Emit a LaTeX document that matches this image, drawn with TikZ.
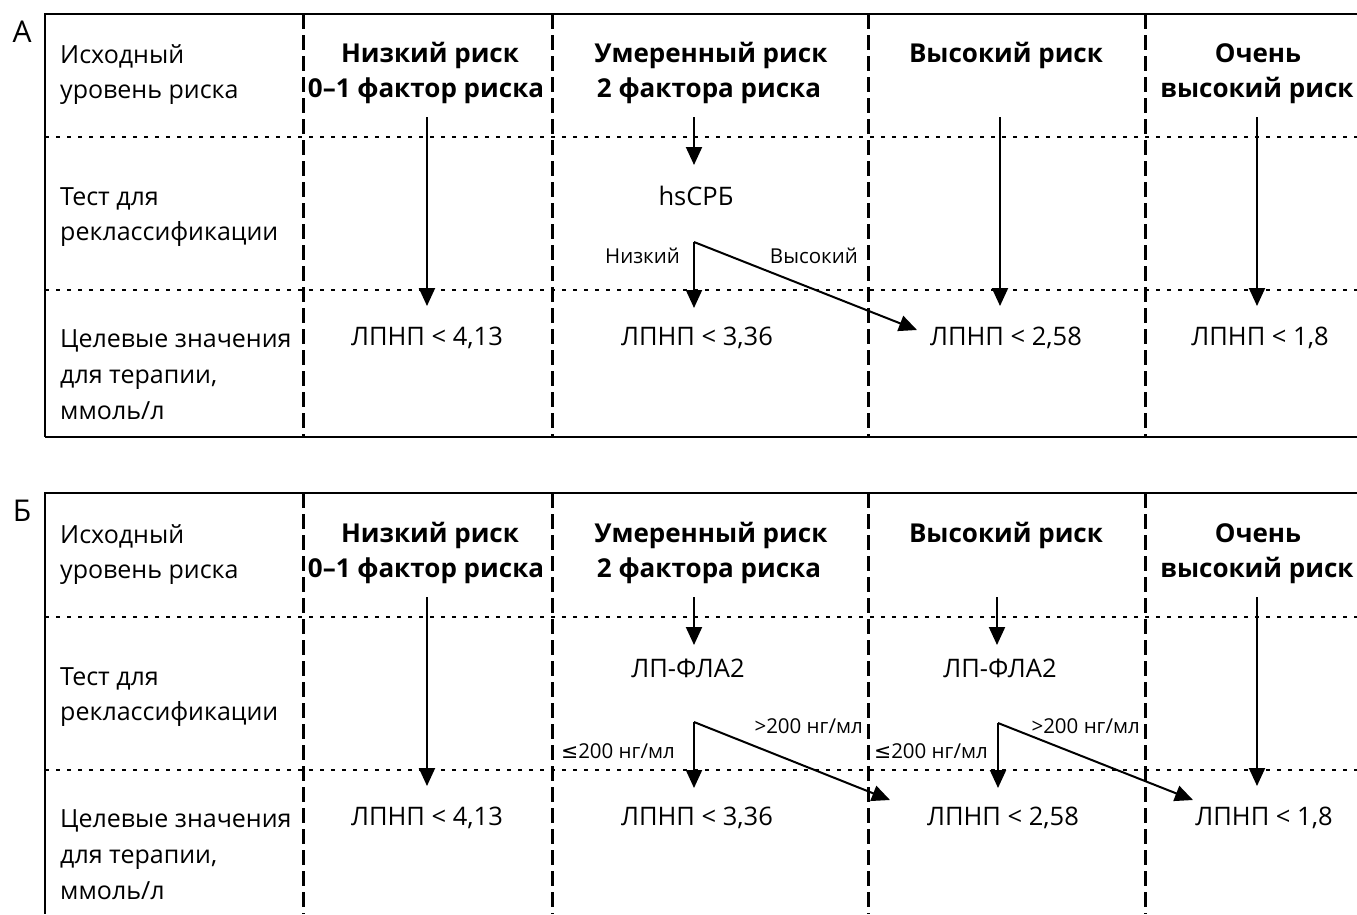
\documentclass[tikz,border=0pt]{standalone}
\usepackage{fontspec}
\setmainfont{Open Sans}
\newfontfamily\symfnt{DejaVu Sans}
\usetikzlibrary{arrows.meta}
\begin{document}
\begin{tikzpicture}[x=1pt,y=-1pt,
  frame/.style={line width=2.8pt},
  vsep/.style={line width=3pt, dash pattern=on 15pt off 6pt},
  hsep/.style={line width=2pt, dash pattern=on 4pt off 7pt},
  arr/.style={line width=2pt, -{Triangle[length=18pt,width=16pt]}},
  lbl/.style={anchor=base west, inner sep=0, font=\fontsize{25}{30}\selectfont},
  head/.style={anchor=base, inner sep=0, font=\fontsize{26}{30}\selectfont\bfseries},
  val/.style={anchor=base, inner sep=0, font=\fontsize{25.5}{30}\selectfont},
  small/.style={anchor=base east, inner sep=0, font=\fontsize{20.5}{22}\selectfont},
  letter/.style={anchor=base, inner sep=0, font=\fontsize{30}{32}\selectfont},
]
\useasboundingbox (0,0) rectangle (1357,914);

% ---------- common parts of both panels ----------
\foreach \p/\top/\bot/\dy/\L in {a/14/437/0/А, b/493/914/480/Б}{
  \begin{scope}[shift={(0,\dy)}]
    \node[letter] (\p-letter) at (22,{\top-\dy+28}) {\L};
    % separators
    \foreach \x in {303,552,868,1145}
      \draw[vsep] (\x,{\top-\dy}) -- (\x,{\bot-\dy});
    \draw[hsep] (45,137) -- (1357,137);
    \draw[hsep] (45,290) -- (1357,290);
    % left column
    \node[lbl] (\p-l1) at (60,63) {Исходный};
    \node[lbl] (\p-l2) at (60,98) {уровень риска};
    \node[lbl] (\p-l3) at (60,205) {Тест для};
    \node[lbl] (\p-l4) at (60,240) {реклассификации};
    \node[lbl] (\p-l5) at (60,347) {Целевые значения};
    \node[lbl] (\p-l6) at (60,383) {для терапии,};
    \node[lbl] (\p-l7) at (60,419) {ммоль/л};
    % headers
    \node[head] (\p-h1a) at (430,62) {Низкий риск};
    \node[head] (\p-h1b) at (426,97) {0–1 фактор риска};
    \node[head] (\p-h2a) at (711,62) {Умеренный риск};
    \node[head] (\p-h2b) at (709,97) {2 фактора риска};
    \node[head] (\p-h3a) at (1006,62) {Высокий риск};
    \node[head] (\p-h4a) at (1258,62) {Очень};
    \node[head] (\p-h4b) at (1257,97) {высокий риск};
    % column 1 and 4
    \coordinate (\p-s1) at (427,117);
    \coordinate (\p-s4) at (1257,117);
    \node[val] (\p-v1) at (427,345) {ЛПНП < 4,13};
    \node[val] (\p-v2) at (697,345) {ЛПНП < 3,36};
    \coordinate (\p-t1) at (427,306);
    \coordinate (\p-t4) at (1257,306);
    \draw[arr] (\p-s1) -- (\p-t1);
    \draw[arr] (\p-s4) -- (\p-t4);
    % column 2 test
    \coordinate (\p-s2) at (694,117);
    \coordinate (\p-e2) at (694,165);
    \draw[arr] (\p-s2) -- (\p-e2);
    \coordinate (\p-k2) at (694,242);
    \coordinate (\p-d2) at (694,308);
    \draw[arr] (\p-k2) -- (\p-d2);
  \end{scope}
  \draw[frame] (1357,\top) -- (45,\top) -- (45,\bot);
}
\draw[frame] (45,437) -- (1357,437);

% ---------- panel A specific ----------
\node[val] (a-test2) at (696,205) {hsCРБ};
\node[val] (a-v3) at (1006,345) {ЛПНП < 2,58};
\node[val] (a-v4) at (1260,345) {ЛПНП < 1,8};
\coordinate (a-s3) at (1000,117);
\coordinate (a-t3) at (1000,306);
\draw[arr] (a-s3) -- (a-t3);
\coordinate (a-hi2) at (917,330);
\draw[arr] (a-k2) -- (a-hi2);
\node[small] (a-low) at (680,263) {Низкий};
\node[small] (a-high) at (858,263) {Высокий};

% ---------- panel B specific ----------
\node[val] (b-test2) at (688,677) {ЛП-ФЛА2};
\node[val] (b-test3) at (1000,677) {ЛП-ФЛА2};
\node[val] (b-v3) at (1003,825) {ЛПНП < 2,58};
\node[val] (b-v4) at (1264,825) {ЛПНП < 1,8};
\coordinate (b-s3) at (997,597);
\coordinate (b-e3) at (997,645);
\draw[arr] (b-s3) -- (b-e3);
\coordinate (b-k3) at (998,723);
\coordinate (b-d3) at (998,788);
\draw[arr] (b-k3) -- (b-d3);
\coordinate (b-hi2) at (890,800);
\coordinate (b-hi3) at (1193,800);
\draw[arr] (b-k2) -- (b-hi2);
\draw[arr] (b-k3) -- (b-hi3);
\node[small] (b-low2) at (675,758) {{\symfnt ≤}200 нг/мл};
\node[small] (b-high2) at (863,733) {>200 нг/мл};
\node[small] (b-low3) at (988,758) {{\symfnt ≤}200 нг/мл};
\node[small] (b-high3) at (1140,733) {>200 нг/мл};
\end{tikzpicture}
\end{document}
